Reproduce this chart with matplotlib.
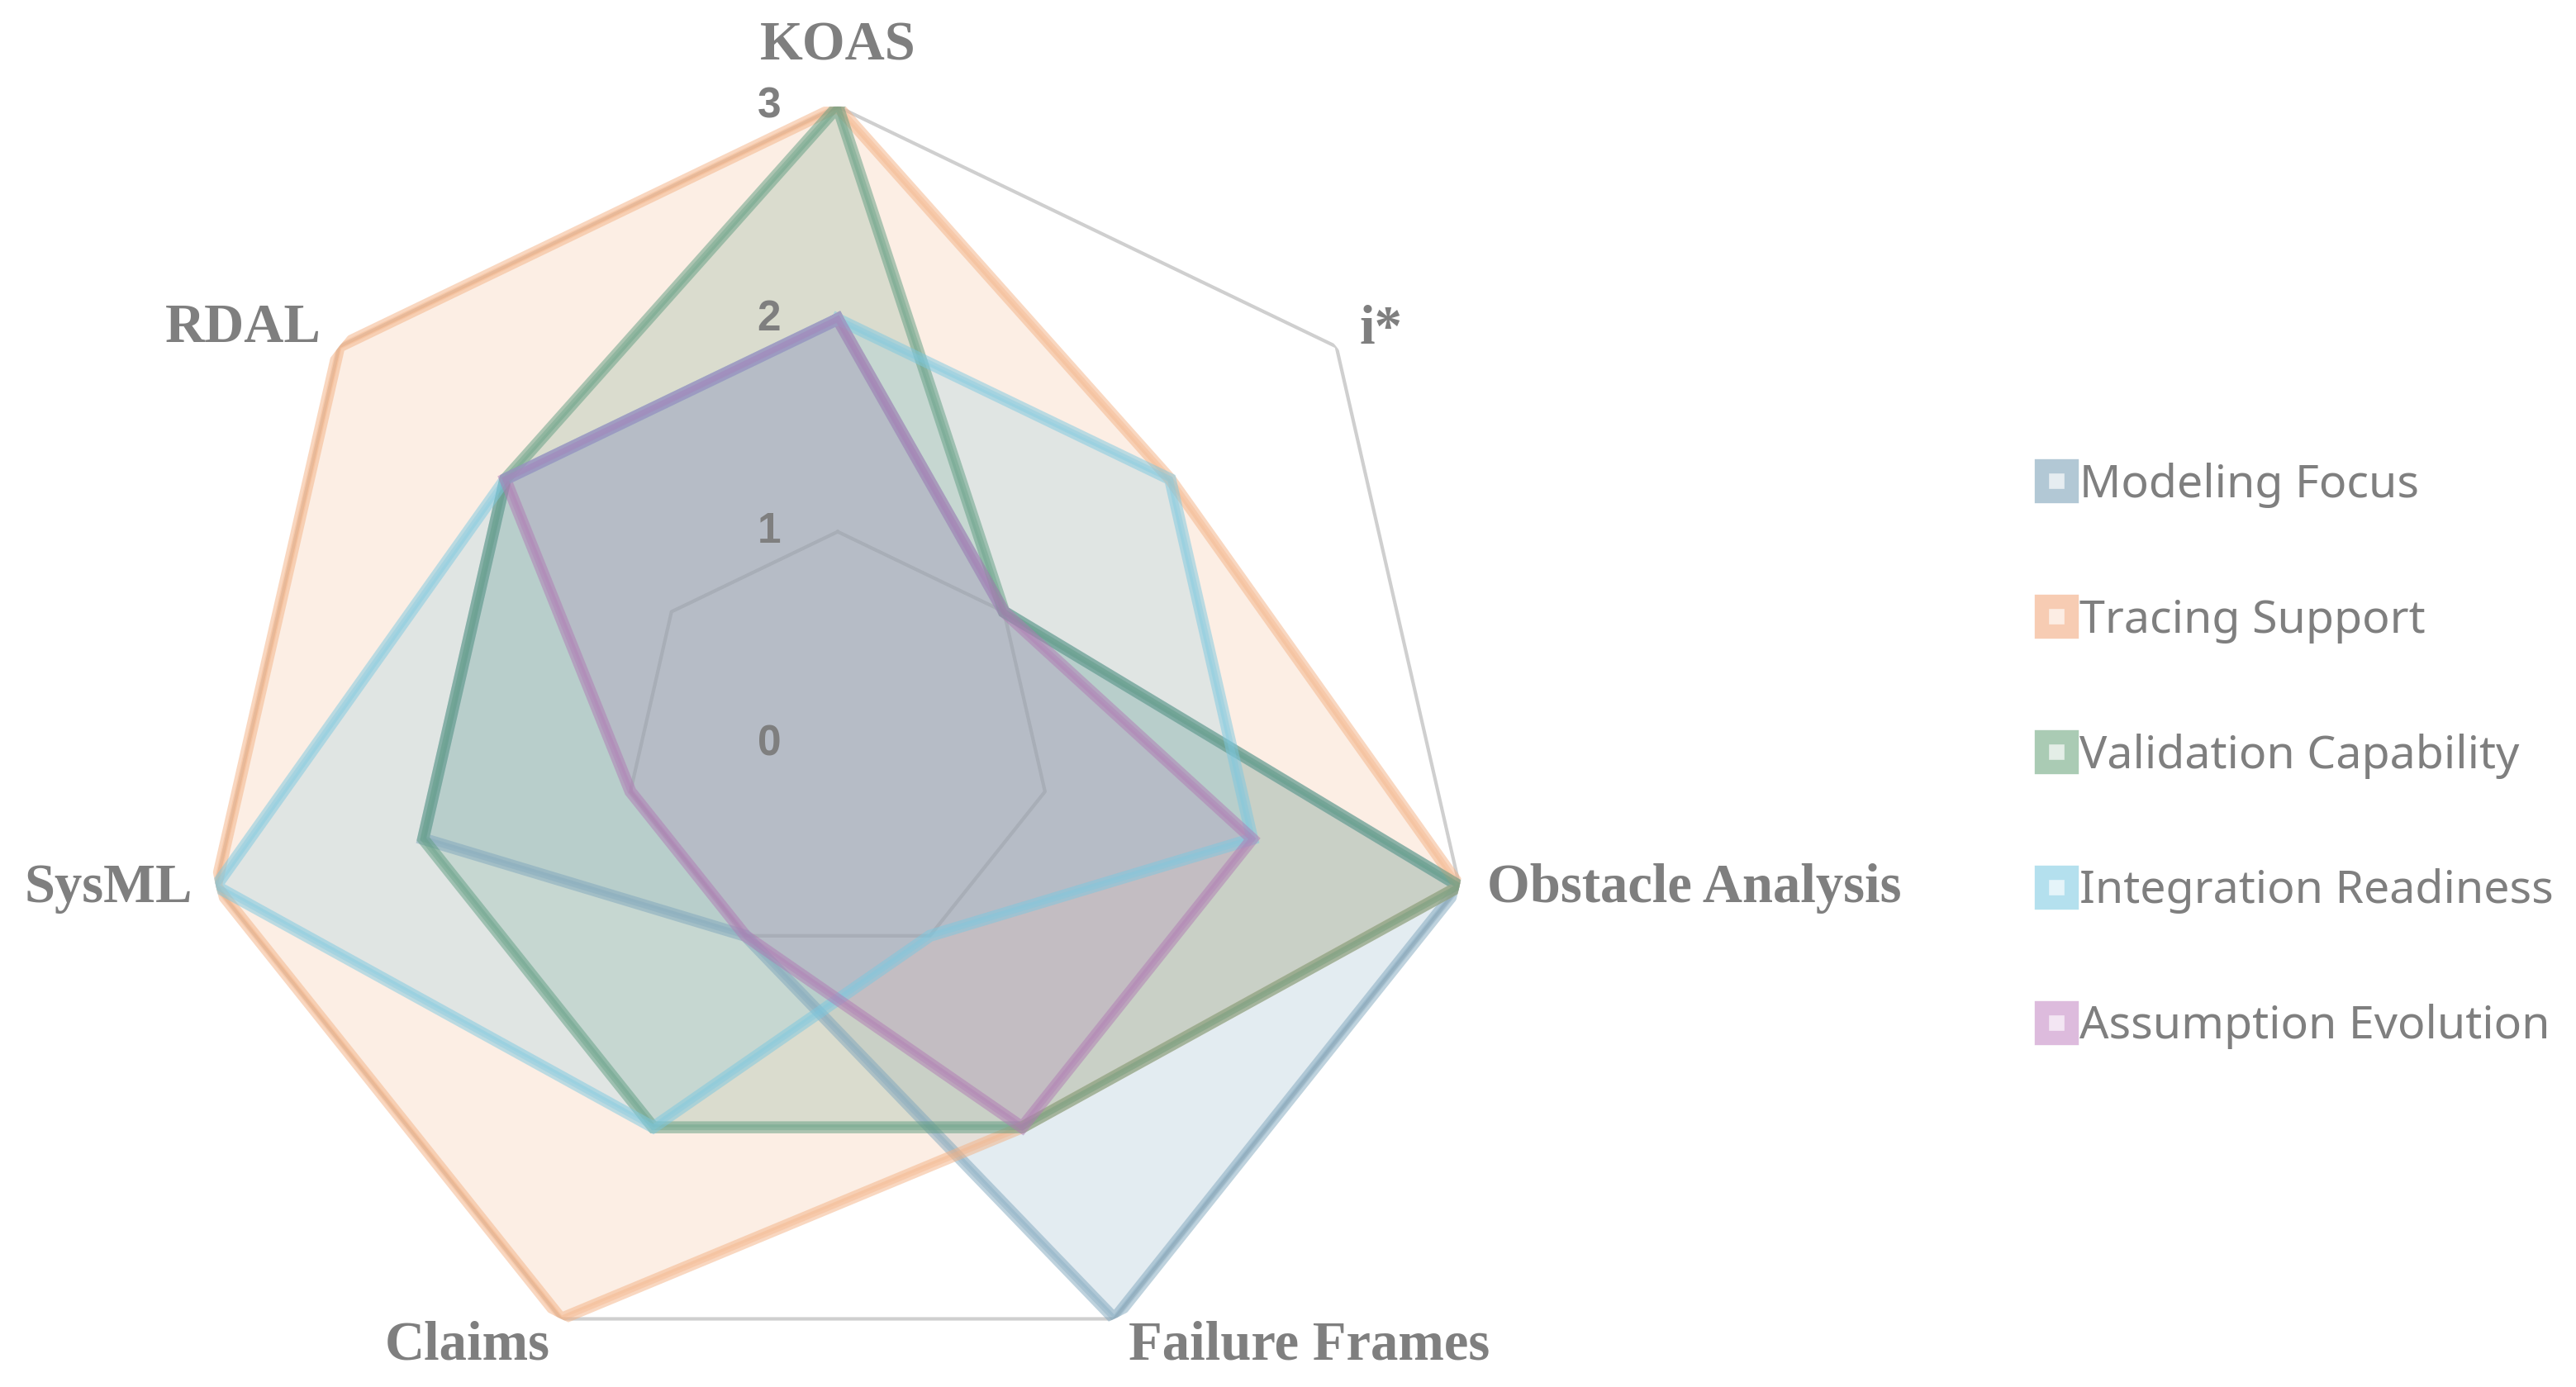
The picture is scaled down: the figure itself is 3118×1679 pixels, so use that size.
import numpy as np
import matplotlib
matplotlib.use("Agg")
import matplotlib.pyplot as plt
from matplotlib.lines import Line2D

# categories clockwise from the top
categories = ["KOAS", "i*", "Obstacle Analysis", "Failure Frames", "Claims", "SysML", "RDAL"]

series_names = ["Modeling Focus", "Tracing Support", "Validation Capability",
                "Integration Readiness", "Assumption Evolution"]
modeling_focus = [2, 1, 3, 3, 1, 2, 2]
tracing_support = [3, 2, 3, 2, 3, 3, 3]
validation_capability = [3, 1, 3, 2, 2, 2, 2]
integration_readiness = [2, 2, 2, 1, 2, 3, 2]
assumption_evolution = [2, 1, 2, 2, 1, 1, 2]

tick_values = [0, 1, 2, 3]
grid_rings = [1, 3]

colors = ["#7FA6BD", "#F4B183", "#5E9C80", "#7CC8E0", "#B07AB4"]
legend_edge = ["#B2C8D5", "#F7CCB3", "#AACBB4", "#B4E0EE", "#DDBBDD"]
legend_face = ["#E6EDF1", "#FCEDE4", "#E4EEE7", "#E5F4F9", "#F3E6F3"]

text_grey = "#7F7F7F"

# label placement per category: (dx px, dy px, ha, va)
label_pos = [
    (0, 42, "center", "bottom"),
    (28, 20, "left", "center"),
    (33, -3, "left", "center"),
    (17, -2, "left", "top"),
    (-13, -2, "right", "top"),
    (-28, -3, "right", "center"),
    (-22, 22, "right", "center"),
]

fig = plt.figure(figsize=(31.18, 16.79), dpi=100)
ax = fig.add_axes([0.0776, 0.0036, 0.4952, 0.9196], projection="polar")
ax.set_theta_offset(np.pi / 2)
ax.set_theta_direction(-1)
ax.set_axis_off()
ax.set_ylim(0, 3)

n = len(categories)
theta = np.arange(n) * 2 * np.pi / n
theta_closed = np.append(theta, theta[0])

# heptagon gridlines
for ring in grid_rings:
    ax.plot(theta_closed, [ring] * (n + 1), color="#CFCFCF", lw=3.0, zorder=1)

all_series = [modeling_focus, tracing_support, validation_capability,
              integration_readiness, assumption_evolution]
for vals, c in zip(all_series, colors):
    v = np.append(vals, vals[0])
    ax.fill(theta_closed, v, color=c, alpha=0.21, lw=0, zorder=2)
    ax.plot(theta_closed, v, color=c, lw=10.5, alpha=0.5, zorder=3,
            solid_joinstyle="miter")
    ax.plot(theta_closed, v, color=c, lw=5, alpha=0.35, zorder=3,
            solid_joinstyle="miter")

# category labels
for t, name, (dx, dy, ha, va) in zip(theta, categories, label_pos):
    ax.annotate(name, xy=(t, 3), xytext=(dx, dy), textcoords="offset pixels",
                ha=ha, va=va, fontsize=48, fontweight="bold",
                family="Liberation Serif", color=text_grey,
                annotation_clip=False)

# value labels along the top axis
for tv in tick_values:
    ax.annotate(str(tv), xy=(0, tv), xytext=(-83, 0), textcoords="offset pixels",
                ha="center", va="center", fontsize=37, fontweight="bold",
                family="Liberation Sans", color=text_grey,
                annotation_clip=False, zorder=5)

handles = [Line2D([], [], linestyle="none", marker="s", markersize=26,
                  markeredgewidth=12.5, markeredgecolor=e, markerfacecolor=f)
           for e, f in zip(legend_edge, legend_face)]
leg = fig.legend(handles, series_names, loc="center left",
                 bbox_to_anchor=(0.7815, 0.455), frameon=False,
                 prop={"family": "Noto Sans", "size": 40},
                 labelcolor=text_grey, handlelength=0.9, handletextpad=0.05,
                 labelspacing=1.96, borderpad=0)

fig.savefig("out.png", dpi=100, facecolor="white")
